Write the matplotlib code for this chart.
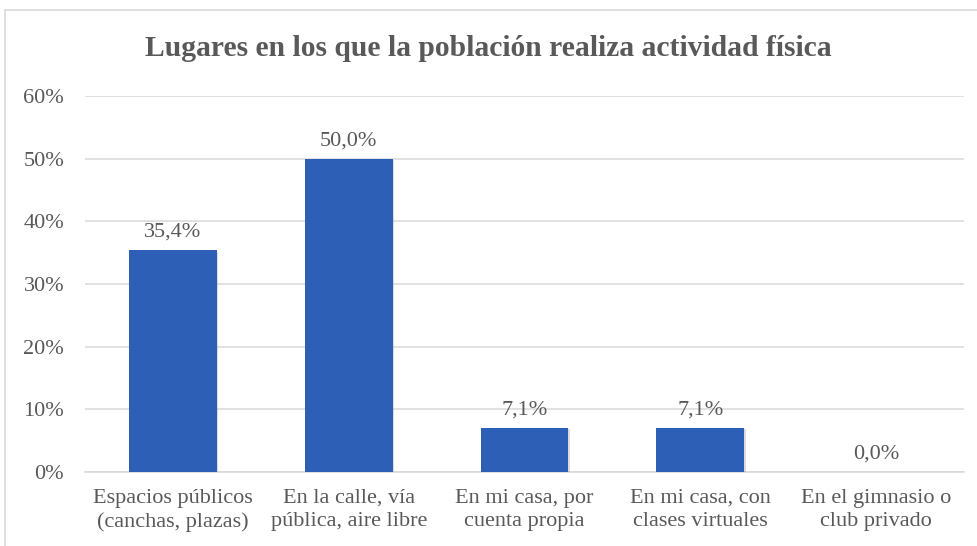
import matplotlib.pyplot as plt
import matplotlib.patheffects as pe
from matplotlib.patches import Rectangle
from matplotlib.ticker import FuncFormatter

# data
categories = [
    'Espacios públicos\n(canchas, plazas)',
    'En la calle, vía\npública, aire libre',
    'En mi casa, por\ncuenta propia',
    'En mi casa, con\nclases virtuales',
    'En el gimnasio o\nclub privado',
]
values = [35.4, 50.0, 7.1, 7.1, 0.0]
yTicks = [0, 10, 20, 30, 40, 50, 60]

barColor = '#2E5FB7'
textColor = '#595959'

plt.rcParams['font.family'] = ['Liberation Serif', 'DejaVu Serif']

fig = plt.figure(figsize=(9.77, 5.46), dpi=100)
W, H = 977, 546

# chart frame (cropped on right and bottom in the reference)
fig.patches.append(Rectangle((5 / W, -0.05), 1.2, (H - 10) / H + 0.05,
                             transform=fig.transFigure, fill=False,
                             edgecolor='#D9D9D9', linewidth=1.2))

ax = fig.add_axes([85 / W, (H - 472) / H, (964 - 85) / W, (472 - 96) / H])

x = list(range(len(categories)))
bars = ax.bar(x, values, width=0.5, color=barColor, zorder=3)
for b in bars:
    b.set_path_effects([pe.SimplePatchShadow(offset=(1, -1), alpha=0.18, shadow_rgbFace='#404040'),
                        pe.Normal()])

for xi, v in zip(x, values):
    ax.text(xi, v + 1.3, f'{v:.1f}%'.replace('.', ','), ha='center', va='bottom',
            fontsize=16, color=textColor, zorder=4)

ax.set_xlim(-0.5, len(categories) - 0.5)
ax.set_ylim(0, 60)
ax.set_yticks(yTicks)
ax.yaxis.set_major_formatter(FuncFormatter(lambda v, p: f'{v:.0f}%'))
ax.set_xticks(x)
ax.set_xticklabels(categories, fontsize=16, color=textColor, linespacing=1.3)
ax.tick_params(axis='y', labelsize=16, labelcolor=textColor, length=0, pad=15)
ax.tick_params(axis='x', length=0, pad=12)

ax.grid(axis='y', color='#D9D9D9', linewidth=1.1, zorder=0)
for s in ['top', 'right', 'left']:
    ax.spines[s].set_visible(False)
ax.spines['bottom'].set_color('#D9D9D9')
ax.spines['bottom'].set_linewidth(1.1)

fig.text(0.5, 1 - 49 / H, 'Lugares en los que la población realiza actividad física',
         ha='center', va='center', fontsize=21.3, fontweight='bold', color=textColor)

fig.savefig('out.png', dpi=100)
